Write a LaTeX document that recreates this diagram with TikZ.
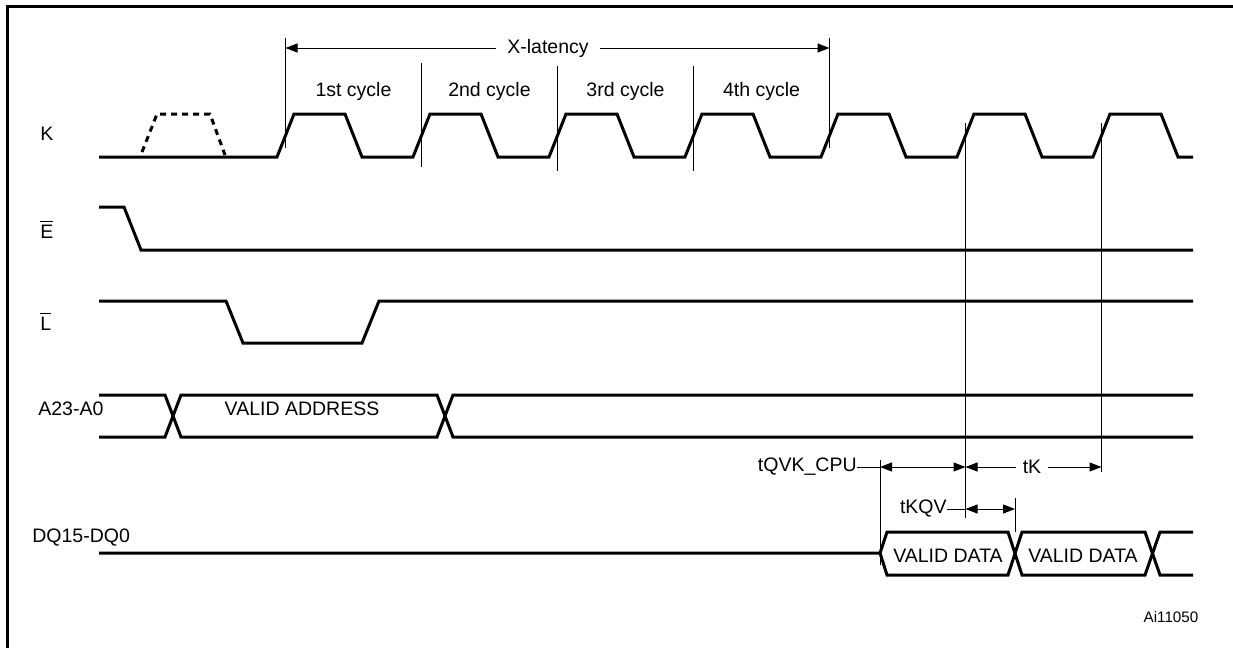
\documentclass[tikz,border=0pt]{standalone}
\usepackage{fontspec}
\setmainfont{Liberation Sans}
\usetikzlibrary{arrows.meta}

\tikzset{
  wave/.style={line width=1.5pt},
  guide/.style={line width=0.5pt},
  tip/.tip={Triangle[length=6pt,width=4.5pt]},
  dimto/.style={line width=0.5pt,-tip},
  dimboth/.style={line width=0.5pt,tip-tip},
  lbl/.style={inner sep=0pt,font=\fontsize{9.75}{11}\selectfont},
}

\begin{document}
\begin{tikzpicture}[x=0.5pt,y=-0.5pt]
\useasboundingbox (0,0) rectangle (1233,648);
% frame
\draw[line width=1.5pt] (7,648) -- (7,6) -- (1233,6);
% signal names
\node[lbl,anchor=base west] (nK) at (40,140) {K};
\node[lbl,anchor=base west] (nE) at (40,238) {$\overline{\mbox{E}}$};
\node[lbl,anchor=base west] (nL) at (40,330) {$\overline{\mbox{L}}$};
\node[lbl,anchor=base west] (nA) at (38,415) {A23-A0};
\node[lbl,anchor=base west] (nDQ) at (32,542) {DQ15-DQ0};
% K clock
\draw[wave] (99,157) -- (277,157) -- (294,114) -- (345,114) -- (362,157)
  -- (413,157) -- (430,114) -- (481,114) -- (498,157)
  -- (549,157) -- (566,114) -- (617,114) -- (634,157)
  -- (685,157) -- (702,114) -- (753,114) -- (770,157)
  -- (821,157) -- (838,114) -- (889,114) -- (906,157)
  -- (957,157) -- (974,114) -- (1025,114) -- (1042,157)
  -- (1093,157) -- (1110,114) -- (1161,114) -- (1178,157) -- (1193,157);
\draw[wave,dash pattern=on 3pt off 2.5pt] (142,152) -- (157,114) -- (210,114) -- (225,155);
% E and L
\draw[wave] (99,207) -- (124,207) -- (141,250) -- (1193,250);
\draw[wave] (99,301) -- (226,301) -- (243,343) -- (362,343) -- (379,301) -- (1193,301);
% address bus
\draw[wave] (99,395) -- (165,395) -- (181,437) -- (437,437) -- (453,395) -- (1193,395);
\draw[wave] (99,437) -- (165,437) -- (181,395) -- (437,395) -- (453,437) -- (1193,437);
\node[lbl,anchor=base] (addr) at (302,415) {VALID ADDRESS};
% data bus
\draw[wave] (99,553) -- (880,553) -- (887,532) -- (1008,532) -- (1022,575) -- (1145,575) -- (1160,532) -- (1193,532);
\draw[wave] (880,553) -- (887,575) -- (1008,575) -- (1022,532) -- (1145,532) -- (1160,575) -- (1193,575);
\node[lbl,anchor=base] (data1) at (948,562) {VALID DATA};
\node[lbl,anchor=base] (data2) at (1083,562) {VALID DATA};
% cycle markers
\draw[guide] (285.5,38) -- (285.5,148);
\draw[guide] (421.5,63) -- (421.5,167);
\draw[guide] (557.5,66) -- (557.5,171);
\draw[guide] (693.5,66) -- (693.5,171);
\draw[guide] (829.5,38) -- (829.5,148);
\draw[guide] (965.5,123) -- (965.5,518);
\draw[guide] (1101.5,123) -- (1101.5,472);
\draw[guide] (880,460) -- (880,565);
\draw[guide] (1015,498) -- (1015,532);
\node[lbl,anchor=base] (cyc1) at (353.5,97) {1st cycle};
\node[lbl,anchor=base] (cyc2) at (489.5,97) {2nd cycle};
\node[lbl,anchor=base] (cyc3) at (625.5,97) {3rd cycle};
\node[lbl,anchor=base] (cyc4) at (761.5,97) {4th cycle};
% X-latency
\coordinate (xl1) at (285.5,48);
\coordinate (xl2) at (829.5,48);
\node[lbl,inner xsep=5.5pt] (xlat) at (548,48) {X-latency};
\draw[dimto] (xlat.west) -- (xl1);
\draw[dimto] (xlat.east) -- (xl2);
% timings
\coordinate (q1) at (880,467);
\coordinate (q2) at (965.5,467);
\coordinate (k2) at (1101.5,467);
\coordinate (v1) at (965.5,509);
\coordinate (v2) at (1015,509);
\node[lbl,anchor=east] (tqvk) at (857,467) {tQVK\_CPU};
\draw[guide] (tqvk.east) -- (q1);
\draw[dimboth] (q1) -- (q2);
\node[lbl,inner xsep=3pt] (tk) at (1032,467) {tK};
\draw[dimto] (tk.west) -- (q2);
\draw[dimto] (tk.east) -- (k2);
\node[lbl,anchor=east] (tkqv) at (947,509) {tKQV};
\draw[guide] (tkqv.east) -- (v1);
\draw[dimboth] (v1) -- (v2);
% figure id
\node[lbl,font=\fontsize{7.6}{9}\selectfont,anchor=base] (fid) at (1171,622) {Ai11050};
\end{tikzpicture}
\end{document}
